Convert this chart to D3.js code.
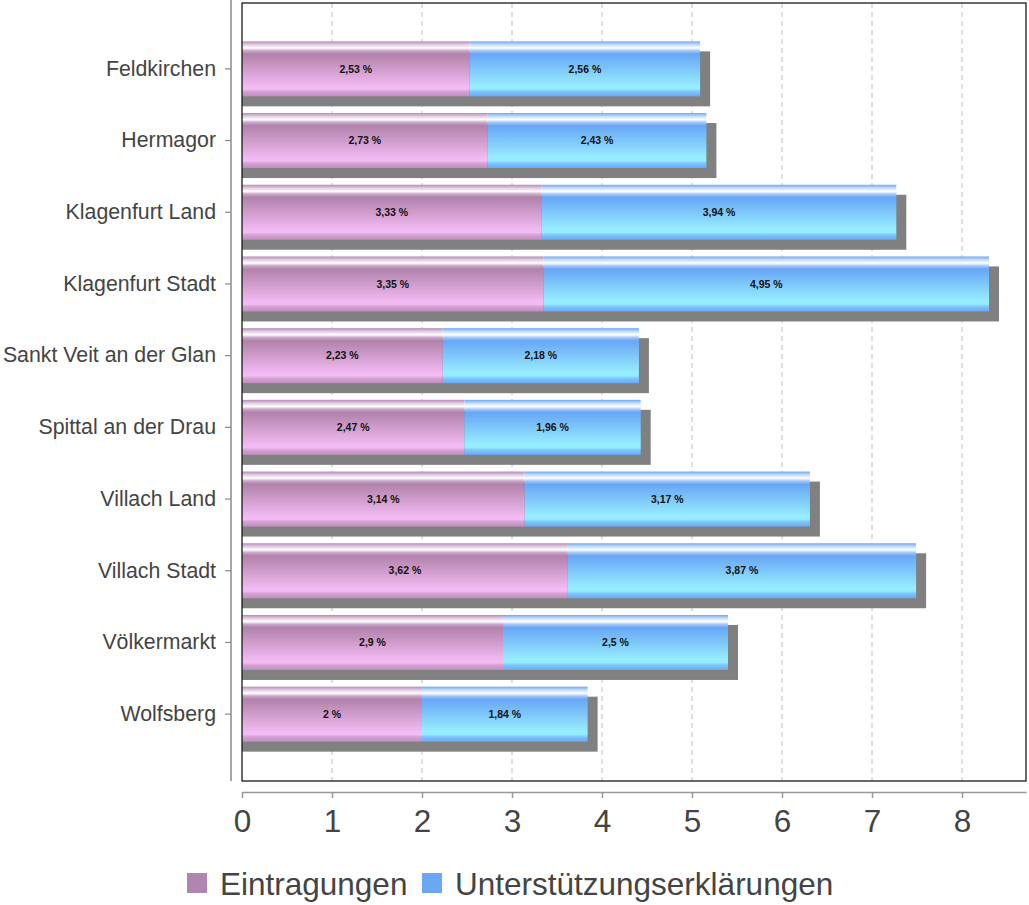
<!DOCTYPE html>
<html><head><meta charset="utf-8">
<script src="https://cdn.jsdelivr.net/npm/d3@7"></script>
<style>body{margin:0;background:#fff}svg{display:block}</style>
</head><body>
<svg id="c" width="1029" height="905"></svg>
<script>
const categories = ["Feldkirchen","Hermagor","Klagenfurt Land","Klagenfurt Stadt","Sankt Veit an der Glan","Spittal an der Drau","Villach Land","Villach Stadt","Völkermarkt","Wolfsberg"];
const eintragungen = [2.53,2.73,3.33,3.35,2.23,2.47,3.14,3.62,2.9,2];
const unterstuetzung = [2.56,2.43,3.94,4.95,2.18,1.96,3.17,3.87,2.5,1.84];
const seriesNames = ["Eintragungen","Unterstützungserklärungen"];
const xTicks = [0,1,2,3,4,5,6,7,8];

const svg = d3.select("#c");
const L=242,R=1026,T=3,B=781;
const x = d3.scaleLinear().domain([0,8.711]).range([L,R]);
const y = d3.scaleBand().domain(categories).range([33,750]).paddingInner(0.233).paddingOuter(0.1165);
const font = "'Liberation Sans', Arial, sans-serif";

const defs = svg.append("defs");
function grad(id, stops){
  const g = defs.append("linearGradient").attr("id",id).attr("x1",0).attr("y1",0).attr("x2",0).attr("y2",1);
  stops.forEach(s=>g.append("stop").attr("offset",s[0]).attr("stop-color",s[1]));
}
grad("gPink",[[0,"#b48cb4"],[0.06,"#e2cce2"],[0.12,"#ffffff"],[0.17,"#caa8c8"],[0.23,"#b182ab"],[0.82,"#f2baf2"],[0.87,"#f4bcf4"],[0.91,"#d6a2d6"],[1,"#bf8fbd"]]);
grad("gBlue",[[0,"#6ea8f4"],[0.06,"#c4dcfb"],[0.12,"#ffffff"],[0.17,"#a8c8f8"],[0.23,"#68a6f6"],[0.82,"#98eeff"],[0.87,"#94eaff"],[0.91,"#7ec8fa"],[1,"#6aa8f5"]]);

// gridlines
svg.append("g").selectAll("line").data(xTicks.slice(1)).join("line")
  .attr("x1",d=>x(d)).attr("x2",d=>x(d)).attr("y1",T).attr("y2",B)
  .attr("stroke","#d4d4d4").attr("stroke-width",1.5).attr("stroke-dasharray","5,4");

// y axis line
svg.append("line").attr("x1",231).attr("x2",231).attr("y1",0).attr("y2",B)
  .attr("stroke","#8a8a8a").attr("stroke-width",1.5);
const yAxis = d3.axisLeft(y).tickSize(6).tickPadding(9);
const yg = svg.append("g").attr("transform","translate(231,0)").call(yAxis);
yg.select(".domain").remove();
yg.selectAll(".tick line").attr("stroke","#8a8a8a").attr("stroke-width",1.2);
yg.selectAll(".tick text").attr("font-family",font).attr("font-size",21.3).attr("fill","#444");

// x axis
const xAxis = d3.axisBottom(x).tickValues(xTicks).tickSize(6).tickPadding(12).tickSizeOuter(0);
const xg = svg.append("g").attr("transform","translate(0,792)").call(xAxis);
xg.select(".domain").attr("stroke","#999").attr("stroke-width",1.5);
xg.selectAll(".tick line").attr("stroke","#999").attr("stroke-width",1.5);
xg.selectAll(".tick text").attr("font-family",font).attr("font-size",31.5).attr("fill","#444");

const rows = categories.map((c,i)=>({c, a:eintragungen[i], b:unterstuetzung[i]}));
// shadows
svg.append("g").selectAll("rect").data(rows).join("rect")
  .attr("x",x(0)).attr("y",d=>y(d.c)+10)
  .attr("width",d=>x(d.a+d.b)-x(0)+10).attr("height",y.bandwidth())
  .attr("fill","#808080");
// bars
const bars = svg.append("g");
bars.selectAll(".a").data(rows).join("rect").attr("class","a")
  .attr("x",x(0)).attr("y",d=>y(d.c)).attr("width",d=>x(d.a)-x(0)).attr("height",y.bandwidth())
  .attr("fill","url(#gPink)");
bars.selectAll(".b").data(rows).join("rect").attr("class","b")
  .attr("x",d=>x(d.a)).attr("y",d=>y(d.c)).attr("width",d=>x(d.a+d.b)-x(d.a)).attr("height",y.bandwidth())
  .attr("fill","url(#gBlue)");
const fmt = v => String(v).replace(".",",")+" %";
const lbl = svg.append("g").attr("font-family",font).attr("font-size",10.5).attr("font-weight","bold")
  .attr("text-anchor","middle").attr("fill","#111");
lbl.selectAll(".la").data(rows).join("text").attr("class","la")
  .attr("x",d=>(x(0)+x(d.a))/2).attr("y",d=>y(d.c)+y.bandwidth()/2).attr("dy","0.35em").text(d=>fmt(d.a));
lbl.selectAll(".lb").data(rows).join("text").attr("class","lb")
  .attr("x",d=>(x(d.a)+x(d.a+d.b))/2).attr("y",d=>y(d.c)+y.bandwidth()/2).attr("dy","0.35em").text(d=>fmt(d.b));

// plot border
svg.append("rect").attr("x",L).attr("y",T).attr("width",R-L).attr("height",B-T)
  .attr("fill","none").attr("stroke","#1a1a1a").attr("stroke-width",1.3);

// legend
const legColors = ["#b085b0","#6aa8f5"];
const legX = [187,422];
const lg = svg.append("g");
seriesNames.forEach((n,i)=>{
  lg.append("rect").attr("x",legX[i]).attr("y",873).attr("width",20).attr("height",20).attr("fill",legColors[i]);
  lg.append("text").attr("x",legX[i]+33).attr("y",895).attr("font-family",font).attr("font-size",31.5)
    .attr("fill","#444").text(n);
});
</script>
</body></html>
